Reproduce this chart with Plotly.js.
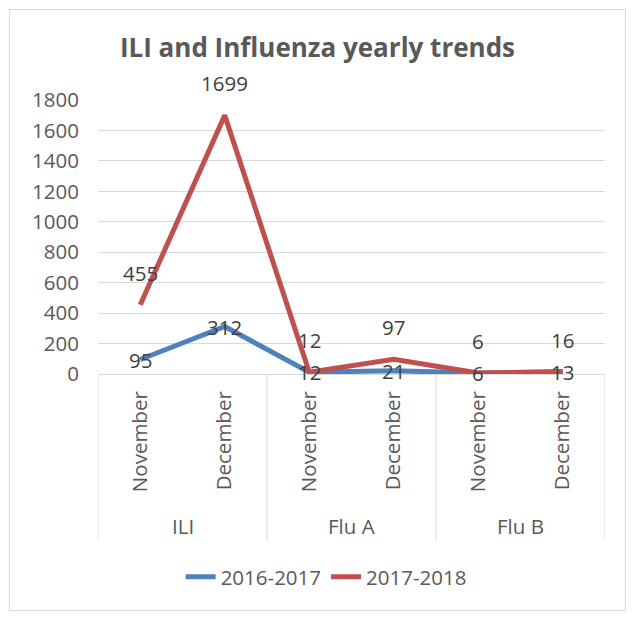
<!DOCTYPE html>
<html>
<head>
<meta charset="utf-8">
<script src="https://cdn.plot.ly/plotly-3.0.1.min.js"></script>
<style>
  html, body { margin: 0; padding: 0; background: #fff; }
  #wrap { position: relative; width: 635px; height: 617px; }
  #chart { position: absolute; left: 0; top: 0; width: 635px; height: 617px; }
  #frame { position: absolute; left: 9px; top: 9px; width: 615px; height: 600px; border: 1px solid #d9d9d9; pointer-events: none; }
</style>
</head>
<body>
<div id="wrap"><div id="chart"></div><div id="frame"></div></div>
<script>
const groups = ["ILI", "ILI", "Flu A", "Flu A", "Flu B", "Flu B"];
const months = ["November", "December", "November", "December", "November", "December"];
const series1Name = "2016-2017";
const series1 = [95, 312, 12, 21, 6, 13];
const series2Name = "2017-2018";
const series2 = [455, 1699, 12, 97, 6, 16];
const yTicks = [0, 200, 400, 600, 800, 1000, 1200, 1400, 1600, 1800];

const idx = months.map((_, i) => i);
const fontFam = "Open Sans, sans-serif";
const textCol = "#404040";
const tickCol = "#595959";
const fs = 20.5;

const traces = [
  { x: idx, y: series1, name: series1Name, mode: "lines", type: "scatter",
    line: { color: "#4f81bd", width: 5 } },
  { x: idx, y: series2, name: series2Name, mode: "lines", type: "scatter",
    line: { color: "#c0504d", width: 5 } }
];

const annotations = [];
series1.forEach((v, i) => annotations.push({ x: i, y: v, text: String(v), showarrow: false,
  font: { family: fontFam, size: fs, color: textCol }, yshift: 0 }));
series2.forEach((v, i) => annotations.push({ x: i, y: v, text: String(v), showarrow: false,
  font: { family: fontFam, size: fs, color: textCol }, yshift: 32 }));

// group labels and dividers
const uniq = [];
groups.forEach((g, i) => {
  let u = uniq.find(o => o.name === g);
  if (!u) { u = { name: g, first: i, last: i }; uniq.push(u); } else u.last = i;
});
const shapes = [];
uniq.forEach((u, k) => {
  annotations.push({ x: (u.first + u.last) / 2, xref: "x", y: -0.553, yref: "paper",
    text: u.name, showarrow: false, yanchor: "middle",
    font: { family: fontFam, size: fs, color: tickCol } });
  if (k === 0) shapes.push({ type: "line", xref: "x", yref: "paper", x0: u.first - 0.5, x1: u.first - 0.5,
    y0: 0, y1: -0.606, line: { color: "#d9d9d9", width: 1 } });
  shapes.push({ type: "line", xref: "x", yref: "paper", x0: u.last + 0.5, x1: u.last + 0.5,
    y0: 0, y1: -0.606, line: { color: "#d9d9d9", width: 1 } });
});

const layout = {
  width: 635, height: 617,
  margin: { l: 98, r: 30, t: 100, b: 243 },
  paper_bgcolor: "#ffffff", plot_bgcolor: "#ffffff",
  title: { text: "<b>ILI and Influenza yearly trends</b>", x: 0.5, xanchor: "center",
    y: 1 - 48 / 617, yanchor: "middle", yref: "container",
    font: { family: fontFam, size: 26, color: "#595959" } },
  xaxis: {
    range: [-0.5, idx.length - 0.5], tickmode: "array", tickvals: idx, ticktext: months,
    tickangle: -90, showgrid: false, zeroline: false, showline: true, linecolor: "#d9d9d9",
    ticks: "", ticklabelstandoff: 8, tickfont: { family: fontFam, size: fs, color: tickCol },
    fixedrange: true
  },
  yaxis: {
    range: [0, 1800], tickmode: "array", tickvals: yTicks, showgrid: true, gridcolor: "#d9d9d9",
    gridwidth: 1, zeroline: false, showline: false, ticks: "", ticklabelstandoff: 18,
    tickfont: { family: fontFam, size: fs, color: tickCol }, fixedrange: true
  },
  showlegend: true,
  legend: { orientation: "h", x: 0.45, xanchor: "center", y: -0.741, yanchor: "middle",
    font: { family: fontFam, size: fs, color: tickCol }, itemwidth: 30, traceorder: "normal" },
  annotations: annotations,
  shapes: shapes
};

Plotly.newPlot("chart", traces, layout, { displayModeBar: false, staticPlot: true });
</script>
</body>
</html>
